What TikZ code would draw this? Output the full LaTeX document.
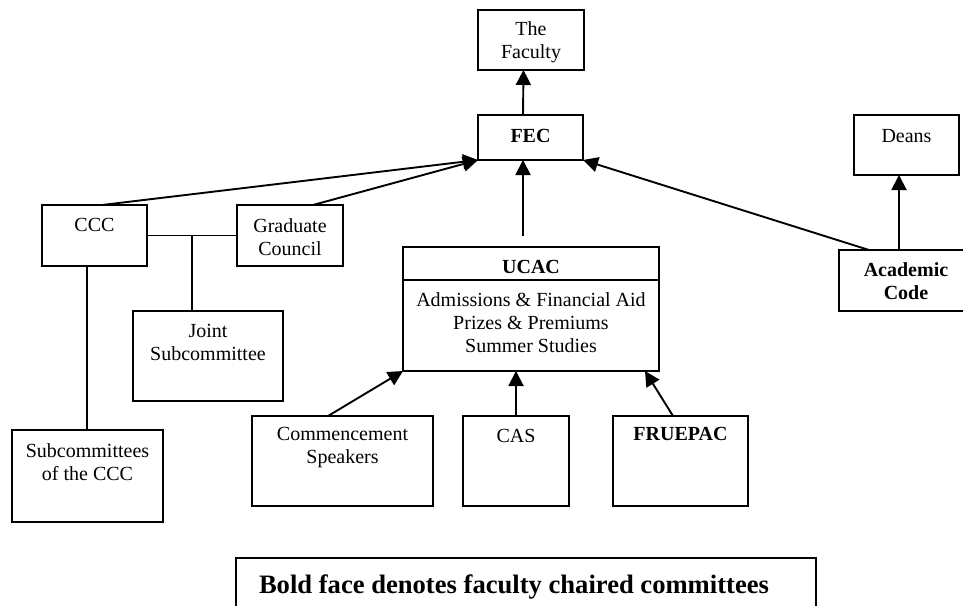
\documentclass[tikz,border=0pt]{standalone}
\usepackage{fontspec}
\setmainfont{Liberation Serif}
\usetikzlibrary{arrows.meta}
\newcommand{\bxt}[4]{\parbox[c][#2][t]{#1}{\centering\rule{0pt}{#3}#4\par}}
\begin{document}
\begin{tikzpicture}[x=1pt,y=-1pt,
  box/.style={draw, line width=2pt, inner sep=0pt, outer sep=0pt, font=\fontsize{20}{23}\selectfont},
  conn/.style={line width=1.9pt},
  arr/.style={line width=1.9pt, -{Triangle[length=15pt,width=15pt]}}]
\clip (0,0) rectangle (963,605);
\node[box] (faculty) at (531,40) {\bxt{106pt}{60pt}{25pt}{The\\Faculty}};
\node[box] (fec) at (530.5,137.5) {\bxt{105pt}{45pt}{27pt}{\textbf{FEC}}};
\node[box] (deans) at (906.5,145) {\bxt{105pt}{60pt}{27pt}{Deans}};
\node[box] (academic) at (906,280.5) {\bxt{134pt}{61pt}{26pt}{\textbf{Academic}\\\textbf{Code}}};
\node[box] (ccc) at (94.5,235.5) {\bxt{105pt}{61pt}{26pt}{CCC}};
\node[box] (grad) at (290,235.5) {\bxt{106pt}{61pt}{27pt}{Graduate\\Council}};
\node[box] (joint) at (208,356) {\bxt{150pt}{90pt}{26pt}{Joint\\Subcommittee}};
\node[box] (subccc) at (87.5,476) {\bxt{151pt}{92pt}{27pt}{Subcommittees\\of the CCC}};
\node[box] (ucact) at (531,263.5) {\bxt{256pt}{33pt}{26pt}{\textbf{UCAC}}};
\node[box] (ucacb) at (531,325.5) {\bxt{256pt}{91pt}{26pt}{Admissions \& Financial Aid\\Prizes \& Premiums\\Summer Studies}};
\node[box] (comm) at (342.5,461) {\bxt{181pt}{90pt}{24pt}{Commencement\\Speakers}};
\node[box] (cas) at (516,461) {\bxt{106pt}{90pt}{26pt}{CAS}};
\node[box] (fruepac) at (680.5,461) {\bxt{135pt}{90pt}{24pt}{\textbf{FRUEPAC}}};
\node[box, font=\fontsize{26.6}{30}\selectfont\bfseries] (legend) at (526,599)
  {\parbox[c][82pt][t]{580pt}{\raggedright\hspace*{23pt}\rule{0pt}{35pt}Bold face denotes faculty chaired committees\par}};
% connectors
\draw[arr] ([xshift=-7.5pt]fec.north) -- ([xshift=-7.5pt]faculty.south);
\draw[arr] ([xshift=7.5pt]ccc.north) -- (fec.south west);
\draw[arr] ([xshift=23pt]grad.north) -- (fec.south west);
\draw[arr, shorten <=11pt] ([xshift=-8pt]ucact.north) -- ([xshift=-7.5pt]fec.south);
\draw[arr] ([xshift=-37pt]academic.north) -- (fec.south east);
\draw[arr] ([xshift=-7pt]academic.north) -- ([xshift=-7pt]academic.north |- deans.south);
\draw[conn] (ccc.east) -- (grad.west);
\coordinate (jn) at (192,235.5);
\draw[conn] (jn) -- (jn |- joint.north);
\draw[conn] ([xshift=-7.5pt]ccc.south) -- ([xshift=-7.5pt]ccc.south |- subccc.north);
\draw[arr] ([xshift=-14.5pt]comm.north) -- (ucacb.south west);
\draw[arr] (cas.north) -- (cas.north |- ucacb.south);
\draw[arr] ([xshift=-7.5pt]fruepac.north) -- ([xshift=-14pt]ucacb.south east);
\end{tikzpicture}
\end{document}
